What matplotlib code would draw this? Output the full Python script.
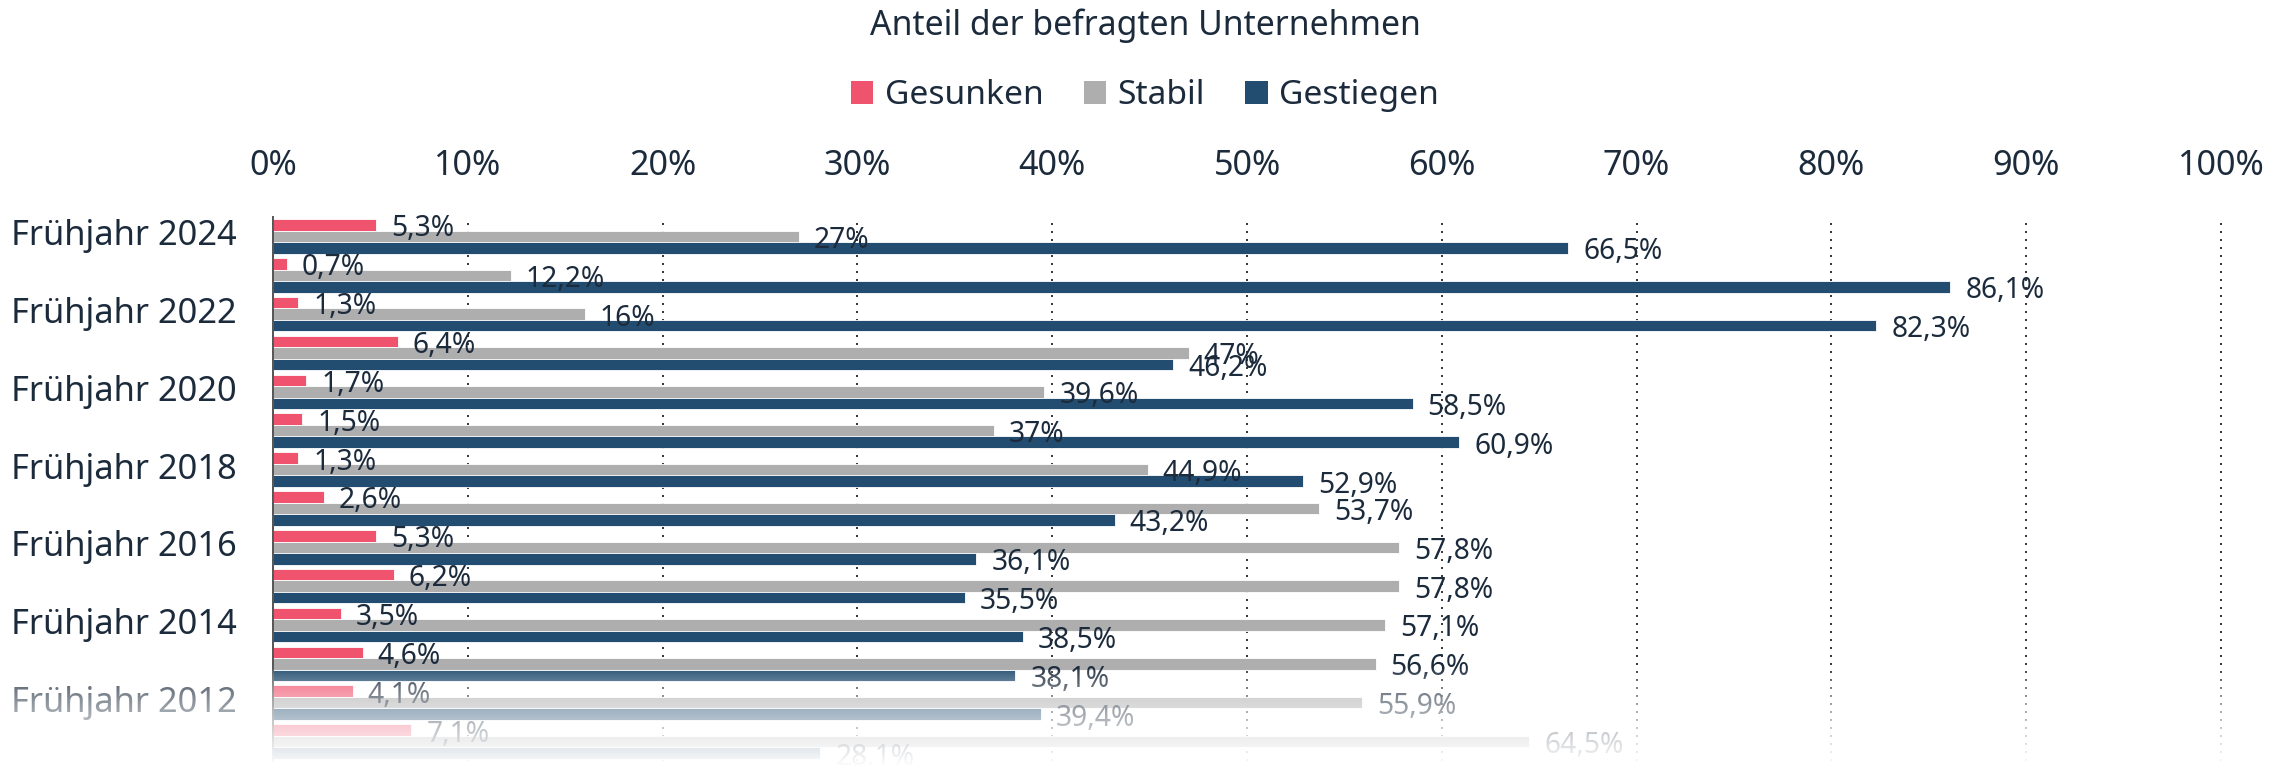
import numpy as np
import matplotlib
matplotlib.use("Agg")
import matplotlib.pyplot as plt
from matplotlib.patches import Patch

# ---- data ----
categories = ["Frühjahr 2024", "Frühjahr 2023", "Frühjahr 2022", "Frühjahr 2021",
              "Frühjahr 2020", "Frühjahr 2019", "Frühjahr 2018", "Frühjahr 2017",
              "Frühjahr 2016", "Frühjahr 2015", "Frühjahr 2014", "Frühjahr 2013",
              "Frühjahr 2012", "Frühjahr 2011"]
gesunken = [5.3, 0.7, 1.3, 6.4, 1.7, 1.5, 1.3, 2.6, 5.3, 6.2, 3.5, 4.6, 4.1, 7.1]
stabil = [27, 12.2, 16, 47, 39.6, 37, 44.9, 53.7, 57.8, 57.8, 57.1, 56.6, 55.9, 64.5]
gestiegen = [66.5, 86.1, 82.3, 46.2, 58.5, 60.9, 52.9, 43.2, 36.1, 35.5, 38.5, 38.1, 39.4, 28.1]
series_names = ["Gesunken", "Stabil", "Gestiegen"]
xticks = list(range(0, 101, 10))
title = "Anteil der befragten Unternehmen"

colors = ["#F0536E", "#AEAEAF", "#234D70"]
text_color = "#1C2B3C"

plt.rcParams['font.family'] = ['Noto Sans', 'DejaVu Sans']

W, H = 2290, 768
fig = plt.figure(figsize=(W / 100, H / 100), dpi=100)

ax_left, ax_right, ax_top, ax_bottom = 273, 2221, 217, 761
ax = fig.add_axes([ax_left / W, 1 - ax_bottom / H,
                   (ax_right - ax_left) / W, (ax_bottom - ax_top) / H])

n = len(categories)
y = np.arange(n)
pitch = 0.296
for k, (vals, col) in enumerate(zip([gesunken, stabil, gestiegen], colors)):
    pos = y + (k - 1) * pitch
    ax.barh(pos, vals, height=pitch, color=col, edgecolor="white",
            linewidth=0.6, zorder=2)
    for p, v in zip(pos, vals):
        lab = f"{v:g}".replace(".", ",") + "%"
        ax.annotate(lab, xy=(v, p), xytext=(15, -11.5), textcoords="offset pixels",
                    ha="left", va="baseline", fontsize=20.3, color=text_color,
                    zorder=5, annotation_clip=False)

ax.set_xlim(0, 100)
ax.set_ylim(n - 0.5, -0.5)
ax.set_xticks(xticks)
ax.set_xticklabels([])
ax.set_yticks([])
ax.tick_params(axis="x", length=0)
ax.grid(axis="x", color="#3a3a3a", linestyle=(0, (1, 3)), linewidth=1.44)
for gl in ax.get_xgridlines():
    gl.set_clip_on(False)
ax.set_axisbelow(True)
for s in ["top", "right", "bottom"]:
    ax.spines[s].set_visible(False)
ax.spines["left"].set_color("#555555")
ax.spines["left"].set_linewidth(1.4)
ax.spines["left"].set_zorder(3)

# x tick labels on top
for t in xticks:
    ax.annotate(f"{t}%", xy=(t, 1), xycoords=("data", "axes fraction"),
                xytext=(0, 42), textcoords="offset pixels", ha="center",
                va="baseline", fontsize=24.6, color=text_color, annotation_clip=False)

# category labels (every second)
for i, c in enumerate(categories):
    if i % 2 == 0:
        ax.annotate(c, xy=(0, i), xycoords=("axes fraction", "data"),
                    xytext=(-36, -9), textcoords="offset pixels", ha="right",
                    va="baseline", fontsize=24.8, color=text_color, annotation_clip=False)

fig.text(0.5, 1 - 35 / H, title, ha="center", va="baseline", fontsize=24.3,
         color=text_color)

handles = [Patch(facecolor=c, edgecolor="none") for c in colors]
leg = fig.legend(handles, series_names, loc="center", ncol=3,
                 bbox_to_anchor=(0.5, 1 - 96 / H), frameon=False, fontsize=24.2,
                 handlelength=0.66, handleheight=0.66, handletextpad=0.35,
                 columnspacing=1.2, borderpad=0, labelcolor=text_color)

# white fade at the bottom
ov = fig.add_axes([0, 0, 1, 1], zorder=20)
ov.set_axis_off()
rows = np.arange(H)
alpha = np.clip((rows - 668) / 98.0, 0, 1) ** 0.65
img = np.ones((H, 1, 4))
img[:, 0, 3] = alpha
ov.imshow(img, extent=(0, 1, 0, 1), aspect="auto", origin="upper",
          interpolation="bilinear")
ov.set_xlim(0, 1)
ov.set_ylim(0, 1)

fig.savefig("out.png", dpi=100)
